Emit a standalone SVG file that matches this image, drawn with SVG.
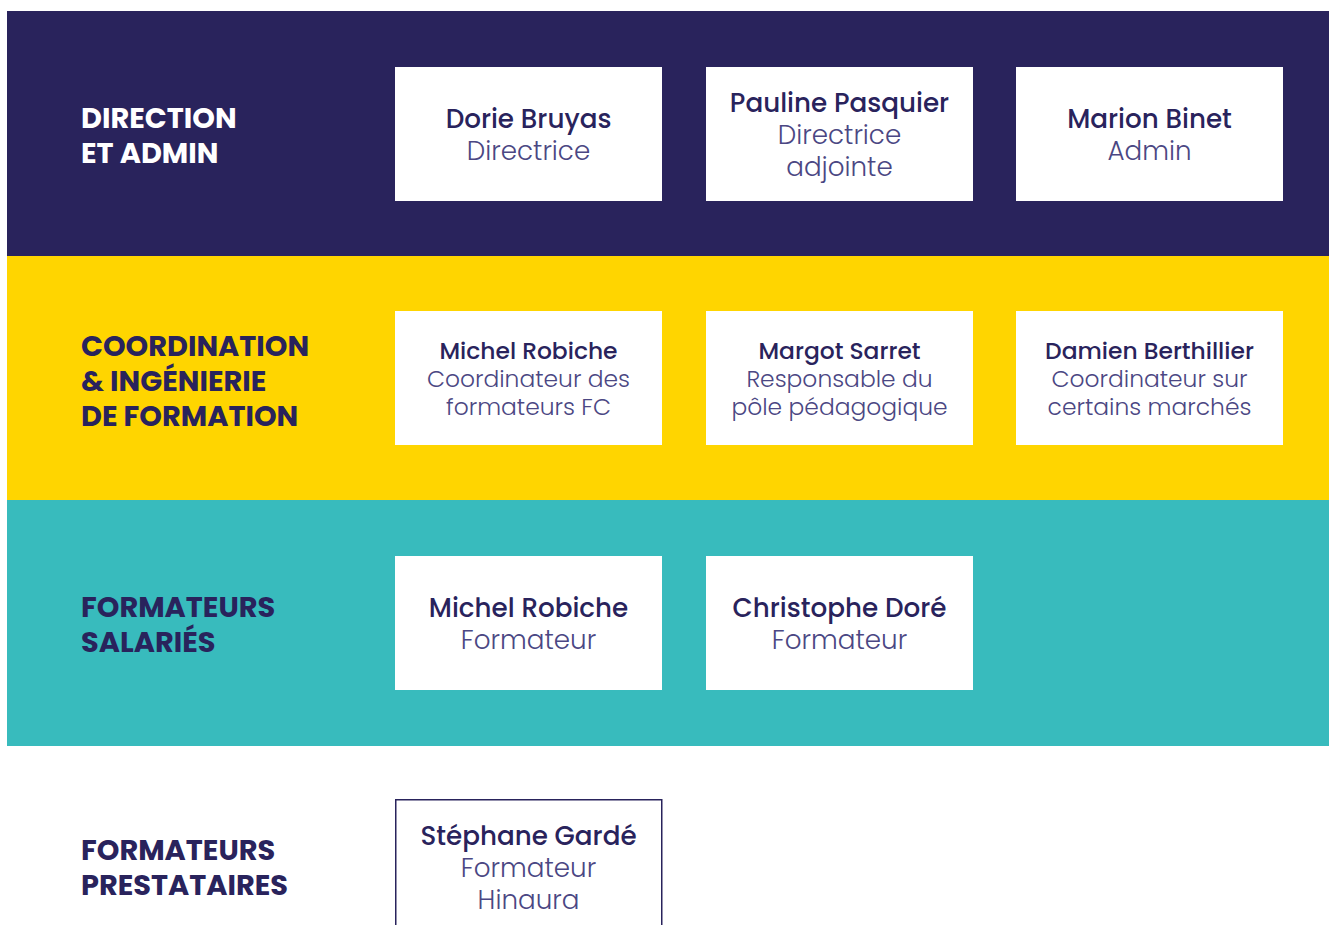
<svg xmlns="http://www.w3.org/2000/svg" width="1329" height="925" viewBox="0 0 1329 925">
<style>
.hd{font-family:Poppins,Inter,"Noto Sans",sans-serif;font-weight:700;font-size:28.8px}
.nm{font-family:Poppins,Inter,"Noto Sans",sans-serif;font-weight:500;fill:#29235c;text-anchor:middle}
.rl{font-family:Poppins,Inter,"Noto Sans",sans-serif;font-weight:300;fill:#4b4783;text-anchor:middle}
.b1{font-size:26.2px}
.b2{font-size:23.4px}
.box{fill:#ffffff}
</style>
<rect width="1329" height="925" fill="#ffffff"/>
<g id="bands">
<rect x="7" y="11" width="1322" height="245" fill="#29235c"/>
<rect x="7" y="256" width="1322" height="244" fill="#ffd500"/>
<rect x="7" y="500" width="1322" height="246" fill="#38bbbd"/>
</g>
<g id="headers">
<text class="hd" fill="#ffffff"><tspan x="81" y="127.8">DIRECTION</tspan><tspan x="81" y="163">ET ADMIN</tspan></text>
<text class="hd" fill="#29235c"><tspan x="81" y="355.5">COORDINATION</tspan><tspan x="81" y="390.7">&amp; INGÉNIERIE</tspan><tspan x="81" y="425.9">DE FORMATION</tspan></text>
<text class="hd" fill="#29235c"><tspan x="81" y="616.8">FORMATEURS</tspan><tspan x="81" y="652">SALARIÉS</tspan></text>
<text class="hd" fill="#29235c"><tspan x="81" y="859.8">FORMATEURS</tspan><tspan x="81" y="895">PRESTATAIRES</tspan></text>
</g>
<g id="node-dorie">
<rect class="box" x="395" y="67" width="267" height="134"/>
<text class="nm b1" x="528.5" y="128">Dorie Bruyas</text>
<text class="rl b1" x="528.5" y="160">Directrice</text>
</g>
<g id="node-pauline">
<rect class="box" x="706" y="67" width="267" height="134"/>
<text class="nm b1" x="839.5" y="112">Pauline Pasquier</text>
<text class="rl b1" x="839.5" y="144">Directrice</text>
<text class="rl b1" x="839.5" y="176">adjointe</text>
</g>
<g id="node-marion">
<rect class="box" x="1016" y="67" width="267" height="134"/>
<text class="nm b1" x="1149.5" y="128">Marion Binet</text>
<text class="rl b1" x="1149.5" y="160">Admin</text>
</g>
<g id="node-michel-coord">
<rect class="box" x="395" y="311" width="267" height="134"/>
<text class="nm b2" x="528.5" y="358.7">Michel Robiche</text>
<text class="rl b2" x="528.5" y="387">Coordinateur des</text>
<text class="rl b2" x="528.5" y="415.3">formateurs FC</text>
</g>
<g id="node-margot">
<rect class="box" x="706" y="311" width="267" height="134"/>
<text class="nm b2" x="839.5" y="358.7">Margot Sarret</text>
<text class="rl b2" x="839.5" y="387">Responsable du</text>
<text class="rl b2" x="839.5" y="415.3">pôle pédagogique</text>
</g>
<g id="node-damien">
<rect class="box" x="1016" y="311" width="267" height="134"/>
<text class="nm b2" x="1149.5" y="358.7">Damien Berthillier</text>
<text class="rl b2" x="1149.5" y="387">Coordinateur sur</text>
<text class="rl b2" x="1149.5" y="415.3">certains marchés</text>
</g>
<g id="node-michel-form">
<rect class="box" x="395" y="556" width="267" height="134"/>
<text class="nm b1" x="528.5" y="617">Michel Robiche</text>
<text class="rl b1" x="528.5" y="649">Formateur</text>
</g>
<g id="node-christophe">
<rect class="box" x="706" y="556" width="267" height="134"/>
<text class="nm b1" x="839.5" y="617">Christophe Doré</text>
<text class="rl b1" x="839.5" y="649">Formateur</text>
</g>
<g id="node-stephane">
<rect x="395.75" y="799.75" width="266" height="140" fill="#ffffff" stroke="#29235c" stroke-width="1.5"/>
<text class="nm b1" x="528.5" y="845">Stéphane Gardé</text>
<text class="rl b1" x="528.5" y="877">Formateur</text>
<text class="rl b1" x="528.5" y="909">Hinaura</text>
</g>
<g id="connectors"></g>
</svg>
